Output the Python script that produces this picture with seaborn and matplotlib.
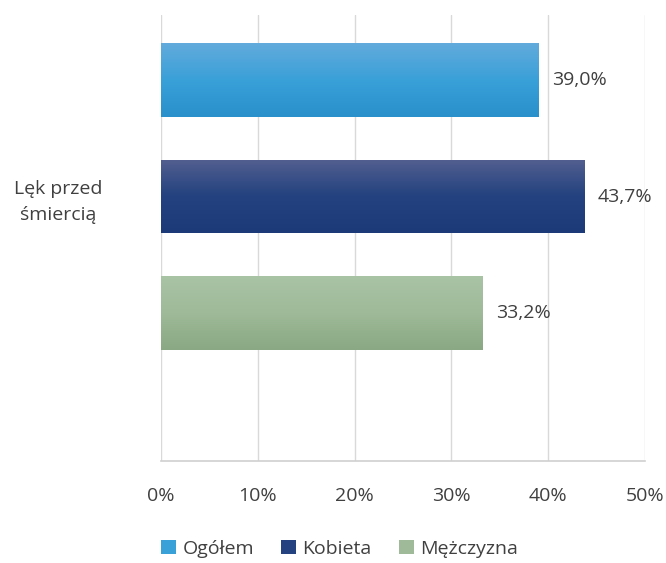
import numpy as np
import pandas as pd
import matplotlib
matplotlib.use("Agg")
import matplotlib.pyplot as plt
from matplotlib.colors import LinearSegmentedColormap
from matplotlib.patches import Patch
import seaborn as sns

category = "Lęk przed\nśmiercią"
series = ["Ogółem", "Kobieta", "Mężczyzna"]
values = [39.0, 43.7, 33.2]
xticks = [0, 10, 20, 30, 40, 50]
tick_labels = ["0%", "10%", "20%", "30%", "40%", "50%"]

top_colors = ["#62abdc", "#535f90", "#a9c3a5"]
mid_colors = ["#3aa0d8", "#23427f", "#9eba98"]
bot_colors = ["#2a90cb", "#1b3a77", "#8aa883"]

sns.set_theme(style="white")
plt.rcParams["font.family"] = ["Open Sans", "DejaVu Sans"]
text_color = "#404040"
fs = 14

df = pd.DataFrame({"series": series, "value": values})

fig = plt.figure(figsize=(6.66, 5.63), dpi=100)
ax = fig.add_axes([161 / 666, 1 - 461 / 563, (645 - 161) / 666, (461 - 15) / 563])

sns.barplot(data=df, x="value", y="series", hue="series", order=series,
            hue_order=series, palette=mid_colors, width=0.63, legend=False,
            ax=ax, saturation=1)

ylim = (2 + (461 - 313) / 116.5, -(80 - 15) / 116.5)

# gradient fills
for i, p in enumerate(ax.patches):
    x0, y0 = p.get_x(), p.get_y()
    w, h = p.get_width(), p.get_height()
    cmap = LinearSegmentedColormap.from_list("g", [top_colors[i], mid_colors[i], bot_colors[i]])
    grad = np.linspace(0, 1, 256).reshape(-1, 1)
    im = ax.imshow(grad, extent=[x0, x0 + w, y0 + h, y0], origin="upper",
                   cmap=cmap, aspect="auto", zorder=p.get_zorder())
    im.set_clip_path(p)
    p.set_facecolor("none")
    p.set_edgecolor("none")

ax.set_xlim(0, 50)
ax.set_ylim(*ylim)

for cont in ax.containers:
    labels = [f"{v:.1f}%".replace(".", ",") for v in cont.datavalues]
    ax.bar_label(cont, labels=labels, padding=10, fontsize=fs, color=text_color)

ax.set_xticks(xticks)
ax.set_xticklabels(tick_labels, fontsize=fs, color=text_color)
ax.set_yticks([(196 - 80) / 116.5])
ax.set_yticklabels([category], fontsize=fs, color=text_color, ha="center",
                   linespacing=1.6)
ax.tick_params(axis="y", length=0, pad=74)
ax.tick_params(axis="x", length=0, pad=19)
ax.set_xlabel("")
ax.set_ylabel("")

ax.grid(axis="x", color="#d9d9d9", linewidth=1)
ax.set_axisbelow(True)
for s in ["top", "right", "left"]:
    ax.spines[s].set_visible(False)
ax.spines["bottom"].set_color("#d0d0d0")
ax.spines["bottom"].set_linewidth(1.2)

handles = [Patch(facecolor=mid_colors[i], edgecolor="none", label=series[i]) for i in range(3)]
fig.legend(handles=handles, loc="lower center", bbox_to_anchor=(0.51, -0.022), ncol=3,
           frameon=False, fontsize=fs, handlelength=0.75, handleheight=0.75,
           handletextpad=0.35, columnspacing=1.4, labelcolor=text_color)

fig.savefig("out.png", dpi=100)
